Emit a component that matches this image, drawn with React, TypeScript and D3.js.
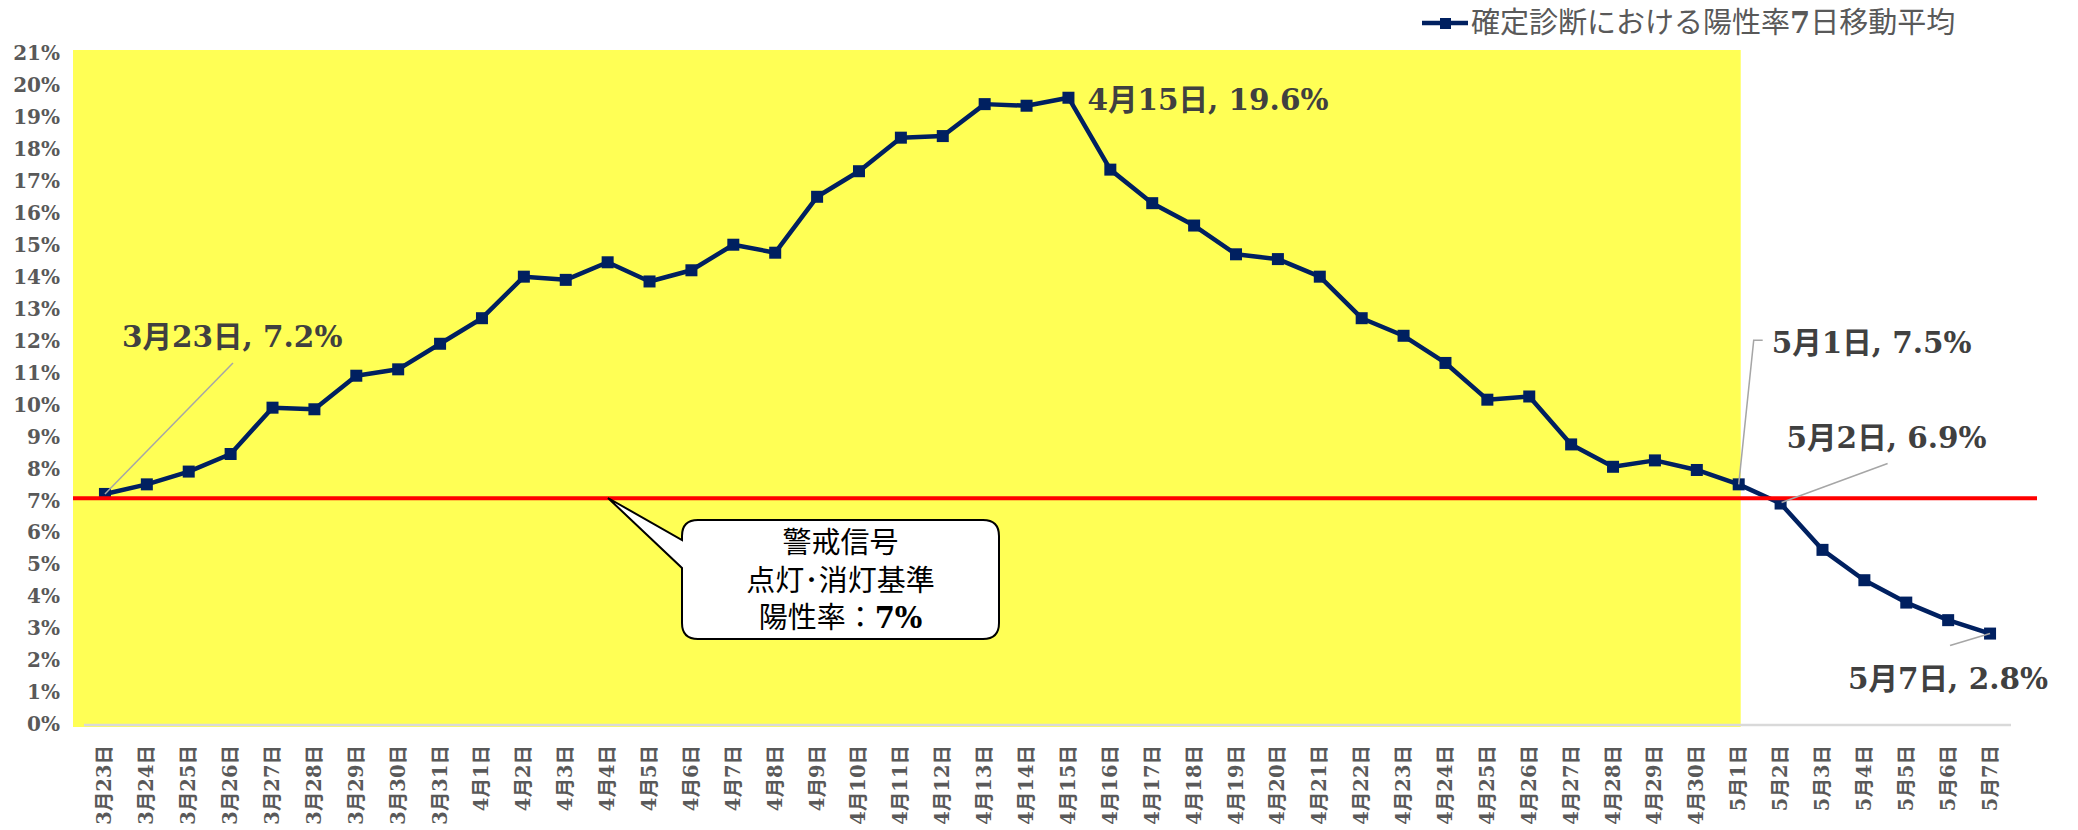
import React from "react";
import * as d3 from "d3";

const categories: string[] = [
  "3月23日", "3月24日", "3月25日", "3月26日", "3月27日", "3月28日", "3月29日", "3月30日", "3月31日",
  "4月1日", "4月2日", "4月3日", "4月4日", "4月5日", "4月6日", "4月7日", "4月8日", "4月9日", "4月10日",
  "4月11日", "4月12日", "4月13日", "4月14日", "4月15日", "4月16日", "4月17日", "4月18日", "4月19日",
  "4月20日", "4月21日", "4月22日", "4月23日", "4月24日", "4月25日", "4月26日", "4月27日", "4月28日",
  "4月29日", "4月30日", "5月1日", "5月2日", "5月3日", "5月4日", "5月5日", "5月6日", "5月7日",
];

const positivityRate: number[] = [
  7.2, 7.5, 7.9, 8.45, 9.9, 9.85, 10.9, 11.1, 11.9,
  12.7, 14.0, 13.9, 14.45, 13.85, 14.2, 15.0, 14.75, 16.5, 17.3,
  18.35, 18.4, 19.4, 19.35, 19.6, 17.35, 16.3, 15.6, 14.7,
  14.55, 14.0, 12.7, 12.15, 11.3, 10.15, 10.25, 8.75, 8.05,
  8.25, 7.95, 7.5, 6.9, 5.45, 4.5, 3.8, 3.25, 2.83,
];

const yTicks: number[] = d3.range(0, 22, 1);
const seriesName = "確定診断における陽性率";
const seriesNameNum = "7";
const seriesNameTail = "日移動平均";
const threshold = 7;
const highlightEnd = "5月1日";
const calloutLines: string[] = ["警戒信号", "点灯･消灯基準"];
const calloutLast = "陽性率：";
const calloutLastNum = "7%";
const annotatedDates: string[] = ["3月23日", "4月15日", "5月1日", "5月2日", "5月7日"];

// layout (positions relative to the data point)
const annotationLayout: Record<string, { dx: number; dy: number; leader: [number, number][] }> = {
  "3月23日": { dx: 17, dy: -147, leader: [[0, 0], [128, -131]] },
  "4月15日": { dx: 19, dy: 12, leader: [] },
  "5月1日": { dx: 33, dy: -131, leader: [[0, 0], [15, -144], [24, -144]] },
  "5月2日": { dx: 6, dy: -56, leader: [[1, -1], [107, -40]] },
  "5月7日": { dx: -142, dy: 55, leader: [[0, 0], [-40, 12]] },
};

const W = 2078;
const H = 830;
const SERIF = "'DejaVu Serif', 'Noto Sans CJK JP', serif";
const SANS = "'Noto Sans CJK JP', 'Noto Sans', sans-serif";

export default function App() {
  const x = d3.scaleBand<string>().domain(categories).range([84, 2011]).padding(0);
  const y = d3.scaleLinear().domain([0, 21]).range([724, 53]);
  const cx = (c: string) => (x(c) as number) + x.bandwidth() / 2;

  const data = categories.map((c, i) => ({ c, v: positivityRate[i] }));
  const line = d3
    .line<{ c: string; v: number }>()
    .x((d) => cx(d.c))
    .y((d) => y(d.v));

  const hlRight = cx(highlightEnd) + 2;
  const yTh = y(threshold) - 2;

  // callout box
  const bx0 = 682, bx1 = 999, by0 = 520, by1 = 639, r = 16;
  const tipX = 608, tipY = 498;
  const pA = 540, pB = 568;
  const callout = `M${bx0 + r},${by0} H${bx1 - r} Q${bx1},${by0} ${bx1},${by0 + r} V${by1 - r} Q${bx1},${by1} ${bx1 - r},${by1} H${bx0 + r} Q${bx0},${by1} ${bx0},${by1 - r} V${pB} L${tipX},${tipY} L${bx0},${pA} V${by0 + r} Q${bx0},${by0} ${bx0 + r},${by0} Z`;
  const ccx = (bx0 + bx1) / 2;

  return (
    <div style={{ position: "absolute", left: 0, top: 0 }}>
      <svg width={W} height={H} style={{ display: "block", background: "#ffffff" }}>
        {/* yellow highlight */}
        <rect x={73} y={50} width={hlRight - 73} height={727 - 50} fill="#ffff55" />
        {/* baseline */}
        <line x1={84} x2={2011} y1={y(0) + 1} y2={y(0) + 1} stroke="#d9d9d9" strokeWidth={2.5} />

        {/* y ticks */}
        {yTicks.map((t) => (
          <text
            key={t}
            x={60}
            y={y(t)}
            dy="0.36em"
            textAnchor="end"
            fontFamily={SERIF}
            fontWeight="bold"
            fontSize={20}
            fill="#595959"
          >
            {t}%
          </text>
        ))}

        {/* x labels */}
        {categories.map((c) => (
          <text
            key={c}
            transform={`translate(${cx(c) + 6.5},745) rotate(-90)`}
            textAnchor="end"
            fontFamily={SERIF}
            fontWeight="bold"
            fontSize={19.5}
            fill="#595959"
          >
            {c}
          </text>
        ))}

        {/* series */}
        <path d={line(data) as string} fill="none" stroke="#002060" strokeWidth={4.5} strokeLinejoin="round" />
        {data.map((d) => (
          <rect key={d.c} x={cx(d.c) - 6} y={y(d.v) - 6} width={12} height={12} fill="#002060" />
        ))}

        {/* threshold */}
        <line x1={73} x2={2037} y1={yTh} y2={yTh} stroke="#ff0000" strokeWidth={4} />

        {/* annotations */}
        {annotatedDates.map((c) => {
          const i = categories.indexOf(c);
          const px = cx(c);
          const py = y(positivityRate[i]);
          const L = annotationLayout[c];
          return (
            <g key={c}>
              {L.leader.length > 0 && (
                <polyline
                  points={L.leader.map(([a, b]) => `${px + a},${py + b}`).join(" ")}
                  fill="none"
                  stroke="#a6a6a6"
                  strokeWidth={1.5}
                />
              )}
              <text
                x={px + L.dx}
                y={py + L.dy}
                fontFamily={SERIF}
                fontWeight="bold"
                fontSize={29.5}
                fill="#404040"
              >
                {`${c}, ${positivityRate[i].toFixed(1)}%`}
              </text>
            </g>
          );
        })}

        {/* callout */}
        <path d={callout} fill="#ffffff" stroke="#000000" strokeWidth={2} />
        {calloutLines.map((t, i) => (
          <text
            key={t}
            x={ccx}
            y={543 + i * 37.5}
            dy="0.36em"
            textAnchor="middle"
            fontFamily={SANS}
            fontSize={29}
            fill="#000000"
          >
            {t}
          </text>
        ))}
        <text x={ccx} y={543 + 2 * 37.5} dy="0.36em" textAnchor="middle" fontFamily={SANS} fontSize={29} fill="#000000">
          {calloutLast}
          <tspan fontFamily={SERIF} fontWeight="bold">{calloutLastNum}</tspan>
        </text>

        {/* legend */}
        <line x1={1422} x2={1468} y1={23} y2={23} stroke="#002060" strokeWidth={4.5} />
        <rect x={1440} y={18} width={11} height={11} fill="#002060" />
        <text x={1471} y={23} dy="0.36em" fontFamily={SANS} fontSize={29} fill="#595959">
          {seriesName}
          <tspan fontFamily={SERIF} fontWeight="bold">{seriesNameNum}</tspan>
          {seriesNameTail}
        </text>
      </svg>
    </div>
  );
}
